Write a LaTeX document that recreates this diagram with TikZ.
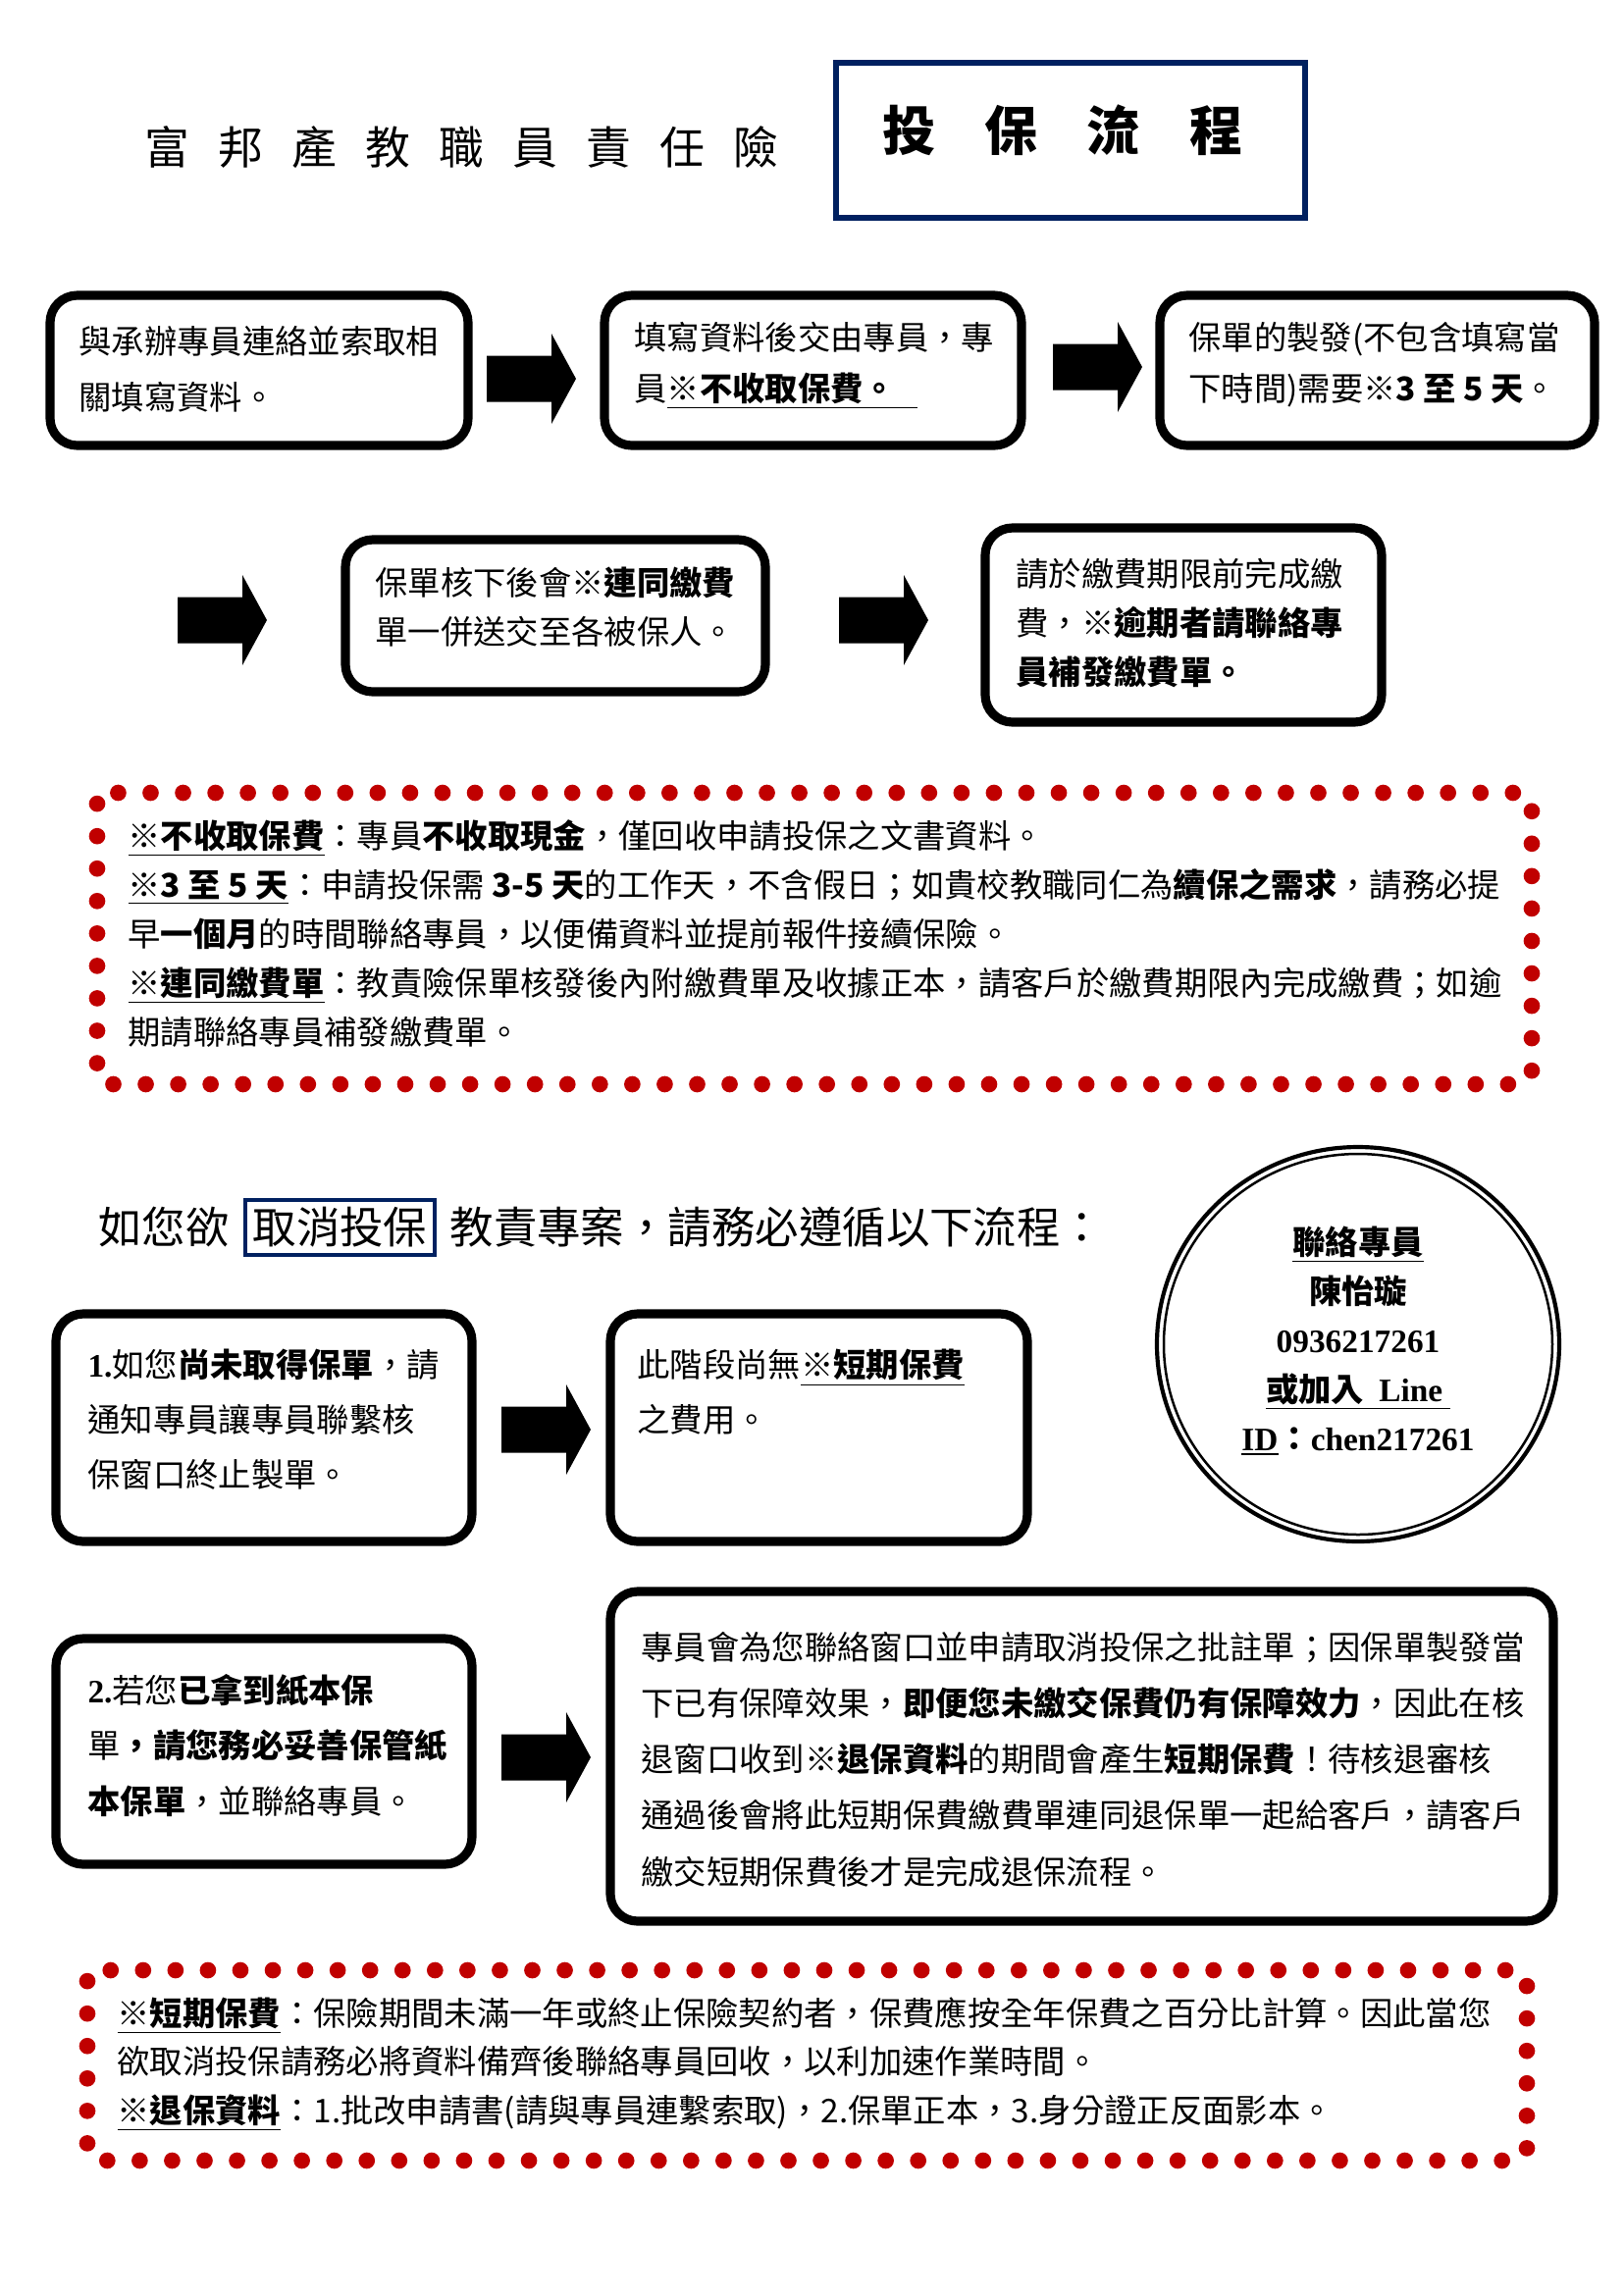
\documentclass[tikz,border=0pt]{standalone}
\usepackage{fontspec}
\setmainfont{Noto Sans CJK TC}
\newfontfamily\tms{Liberation Serif}
\definecolor{titlenavy}{RGB}{0,32,96}
\definecolor{dotred}{RGB}{192,0,0}
\newcommand\upx{0.36pt}
\newcommand\tg{\hspace{10.5pt}}
\newcommand\hg{\hspace{18pt}}
\begin{document}
\begin{tikzpicture}[x=0.36pt,y=-0.36pt,
  flowbox/.style={draw=black,line width=3.3pt,rounded corners=10pt,inner sep=0pt},
  dotbox/.style={draw=dotred,line width=6pt,dash pattern=on 0pt off 11.9pt,line cap=round,rounded corners=4pt},
  txt/.style={anchor=base west,inner sep=0pt,align=left,font=\fontsize{12pt}{#1}\selectfont},
  rtxt/.style={anchor=base west,inner sep=0pt,align=left,font=\fontsize{12pt}{#1}\selectfont},
  blockarrow/.pic={\fill[black] (-45,-23.5) -- (21,-23.5) -- (21,-46) -- (46,0) -- (21,46) -- (21,23.5) -- (-45,23.5) -- cycle;}
]
\useasboundingbox (0,0) rectangle (1654,2339);

% title
\node[inner sep=0pt,font=\fontsize{16.5pt}{16.5pt}\selectfont] (title) at (470,150)
  {富\tg 邦\tg 產\tg 教\tg 職\tg 員\tg 責\tg 任\tg 險};
\node[draw=titlenavy,line width=2.2pt,minimum width=478*\upx,minimum height=158*\upx] (tbox) at (1091,143) {};
\node[inner sep=0pt,font=\fontsize{19.5pt}{19.5pt}\selectfont\bfseries] (ttext) at (1083,133)
  {投\hg 保\hg 流\hg 程};

% flow boxes row 1
\node[flowbox,minimum width=426*\upx,minimum height=153*\upx] (b1) at (264,377.5) {};
\node[flowbox,minimum width=425*\upx,minimum height=153*\upx] (b2) at (828.5,377.5) {};
\node[flowbox,minimum width=443*\upx,minimum height=153*\upx] (b3) at (1403.5,377.5) {};
\node[txt=20.5pt] (t1) at (80,417) {與承辦專員連絡並索取相\\關填寫資料。};
\node[txt=18.7pt] (t2) at (646,408) {填寫資料後交由專員，專\\員\underline{\textbf{※不收取保費。}\hspace{8pt}}};
\node[txt=18.7pt] (t3) at (1211,408) {保單的製發(不包含填寫當\\下時間)需要\textbf{※3 至 5 天}。};
\coordinate (a1) at (541,386);
\coordinate (a2) at (1118,374);
\pic at (a1) {blockarrow};
\pic at (a2) {blockarrow};

% row 2
\coordinate (a3) at (226,632);
\coordinate (a4) at (900,632);
\pic at (a3) {blockarrow};
\pic at (a4) {blockarrow};
\node[flowbox,minimum width=428*\upx,minimum height=155*\upx] (b4) at (566,627.5) {};
\node[flowbox,minimum width=404*\upx,minimum height=198*\upx] (b5) at (1206,637) {};
\node[txt=18pt] (t4) at (382,656) {保單核下後會\textbf{※連同繳費}\\單一併送交至各被保人。};
\node[txt=18pt] (t5) at (1035,697) {請於繳費期限前完成繳\\費，\textbf{※逾期者請聯絡專}\\\textbf{員補發繳費單。}};

% red note 1
\draw[dotbox] (99,808) rectangle (1561,1105);
\node[rtxt=18pt] (n1) at (130,1064) {%
\underline{\textbf{※不收取保費}}：專員\textbf{不收取現金}，僅回收申請投保之文書資料。\\
\underline{\textbf{※3 至 5 天}}：申請投保需 \textbf{3-5 天}的工作天，不含假日；如貴校教職同仁為\textbf{續保之需求}，請務必提\\
早\textbf{一個月}的時間聯絡專員，以便備資料並提前報件接續保險。\\
\underline{\textbf{※連同繳費單}}：教責險保單核發後內附繳費單及收據正本，請客戶於繳費期限內完成繳費；如逾\\
期請聯絡專員補發繳費單。};

% heading
\node[anchor=base west,inner sep=0pt,font=\fontsize{16pt}{16pt}\selectfont] (h1) at (100,1267) {如您欲};
\node[draw=titlenavy,line width=1.5pt,inner sep=0pt,minimum width=193*\upx,minimum height=56*\upx,font=\fontsize{16pt}{16pt}\selectfont] (h2) at (346.5,1251) {取消投保};
\node[anchor=base west,inner sep=0pt,font=\fontsize{16pt}{16pt}\selectfont] (h3) at (458,1267) {教責專案，請務必遵循以下流程：};

% contact circle
\draw[line width=1.5pt] (1384,1370) ellipse [x radius=205,y radius=201];
\draw[line width=0.9pt] (1384,1370) ellipse [x radius=198,y radius=194];
\node[anchor=base,inner sep=0pt,align=center,font=\fontsize{12pt}{18pt}\selectfont\bfseries] (ct) at (1384,1478)
  {\underline{聯絡專員}\\陳怡璇\\{\tms\bfseries 0936217261}\\\underline{或加入\ \ {\tms\bfseries Line}\ }\\\underline{\tms\bfseries ID}：{\tms\bfseries chen217261}};

% row 3
\node[flowbox,minimum width=424*\upx,minimum height=232*\upx] (b6) at (269,1455) {};
\node[flowbox,minimum width=425*\upx,minimum height=232*\upx] (b7) at (834.5,1455) {};
\coordinate (a5) at (556,1457);
\pic at (a5) {blockarrow};
\node[txt=20pt] (t6) at (89,1515) {{\tms\bfseries 1.}如您\textbf{尚未取得保單}，請\\通知專員讓專員聯繫核\\保窗口終止製單。};
\node[txt=20pt] (t7) at (649,1459.5) {此階段尚無\underline{\textbf{※短期保費}}\\之費用。};

% row 4
\node[flowbox,minimum width=424*\upx,minimum height=230*\upx] (b8) at (269,1785) {};
\node[flowbox,minimum width=961*\upx,minimum height=336*\upx] (b9) at (1102.5,1790) {};
\coordinate (a6) at (556,1791);
\pic at (a6) {blockarrow};
\node[txt=20.2pt] (t8) at (89,1848) {{\tms\bfseries 2.}若您\textbf{已拿到紙本保}\\單\textbf{，請您務必妥善保管紙}\\\textbf{本保單}，並聯絡專員。};
\node[txt=20.6pt] (t9) at (653,1920) {專員會為您聯絡窗口並申請取消投保之批註單；因保單製發當\\
下已有保障效果，\textbf{即便您未繳交保費仍有保障效力}，因此在核\\
退窗口收到\textbf{※退保資料}的期間會產生\textbf{短期保費}！待核退審核\\
通過後會將此短期保費繳費單連同退保單一起給客戶，請客戶\\
繳交短期保費後才是完成退保流程。};

% red note 2
\draw[dotbox] (89,2008) rectangle (1556,2202);
\node[rtxt=17.8pt] (n2) at (119,2163) {%
\underline{\textbf{※短期保費}}：保險期間未滿一年或終止保險契約者，保費應按全年保費之百分比計算。因此當您\\
欲取消投保請務必將資料備齊後聯絡專員回收，以利加速作業時間。\\
\underline{\textbf{※退保資料}}：1.批改申請書(請與專員連繫索取)，2.保單正本，3.身分證正反面影本。};
\end{tikzpicture}
\end{document}
